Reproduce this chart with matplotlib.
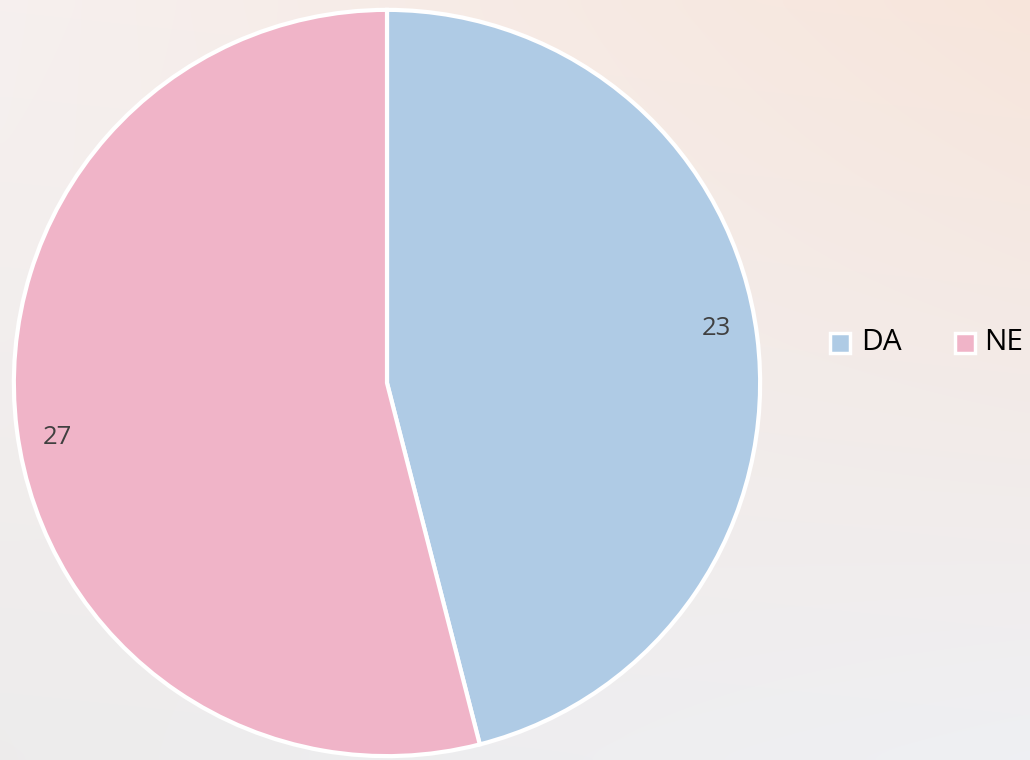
import matplotlib
matplotlib.use("Agg")
import matplotlib.pyplot as plt
import numpy as np
from matplotlib.patches import Rectangle

categories = ["DA", "NE"]
values = [23, 27]
colors = ["#AFCBE5", "#F0B4C8"]

plt.rcParams["font.family"] = ["Open Sans", "DejaVu Sans"]

W, H = 1030, 760
fig = plt.figure(figsize=(W / 100, H / 100), dpi=100)

# soft background gradient
bg = fig.add_axes([0, 0, 1, 1])
h, w = 76, 103
yy, xx = np.mgrid[0:h, 0:w] / np.array([h, w])[:, None, None]
t = xx[..., None]
s = yy[..., None]
top_left = np.array([0.965, 0.94, 0.935])
top_right = np.array([0.97, 0.90, 0.86])
bot_left = np.array([0.93, 0.925, 0.925])
bot_right = np.array([0.935, 0.94, 0.955])
img = (top_left * (1 - t) * (1 - s) + top_right * t * (1 - s)
       + bot_left * (1 - t) * s + bot_right * t * s)
bg.imshow(img, aspect="auto", extent=[0, 1, 0, 1], interpolation="bicubic")
bg.axis("off")

cx, cy, r = 387, 383, 375
ax = fig.add_axes([(cx - r) / W, (H - cy - r) / H, 2 * r / W, 2 * r / H])
wedges, texts = ax.pie(values, colors=colors, startangle=90, counterclock=False,
                       labels=[str(v) for v in values], labeldistance=0.89,
                       wedgeprops=dict(edgecolor="white", linewidth=3),
                       textprops=dict(fontsize=18.5, color="#404040"))
for txt in texts:
    x, y = txt.get_position()
    txt.set_ha("center")
    txt.set_va("bottom" if x > 0 else "top")
ax.set_xlim(-1.005, 1.005)
ax.set_ylim(-1.005, 1.005)
ax.set_aspect("equal")
ax.axis("off")

# legend drawn manually
leg_y = 343
sq_x = [840, 965]
txt_x = [861, 984]
for cat, col, sx, tx in zip(categories, colors, sq_x, txt_x):
    size = 20
    fig.patches.append(Rectangle(((sx - size / 2) / W, (H - leg_y - size / 2) / H),
                                 size / W, size / H, transform=fig.transFigure,
                                 facecolor=col, edgecolor="white", linewidth=2.5))
    fig.text(tx / W, (H - leg_y) / H, cat, ha="left", va="center",
             fontsize=21.5, color="black")

fig.savefig("out.png", dpi=100)
